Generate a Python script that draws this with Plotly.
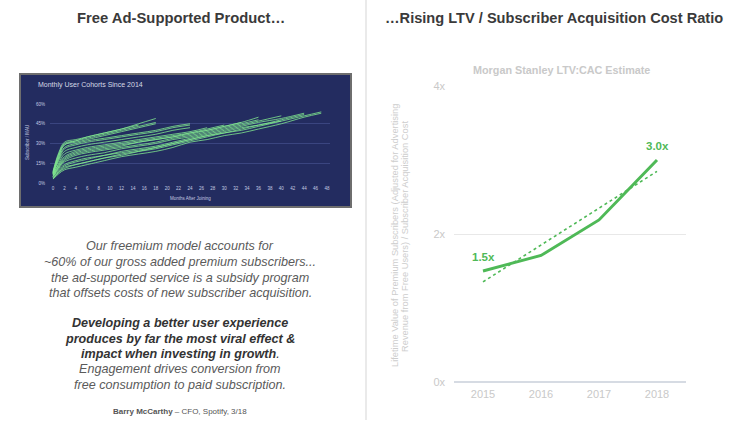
import numpy as np
import plotly.graph_objects as go

W, H = 735, 434

# ---------------- data ----------------
years = [2015, 2016, 2017, 2018]
year_labels = ["2015", "2016", "2017", "2018"]
ltv_cac = [1.5, 1.71, 2.19, 3.0]
ltv_ticks = [0, 2, 4]
ltv_tick_labels = ["0x", "2x", "4x"]
point_labels = {2015: "1.5x", 2018: "3.0x"}

cohort_months = [0, 1, 2, 4, 6, 9, 12, 15, 18, 21, 24, 27, 30, 33, 36, 40, 44, 47]
cohorts = [
    [3, 7, 10, 12, 14, 17, 20, 22, 24, 27, 31, 33, 36, 38, 41, 45, 50, 53],
    [4, 8, 12, 14, 16, 19, 22, 24, 26, 29, 32, 35, 38, 40, 43, 47, 51, 54],
    [3, 8, 11, 14, 16, 19, 21, 24, 27, 30, 33, 36, 39, 42, 44, 48, 52],
    [5, 10, 14, 17, 19, 21, 24, 26, 28, 31, 34, 37, 40, 43, 46, 49, 53],
    [4, 9, 13, 16, 18, 21, 23, 25, 27, 30, 33, 36, 38, 41, 44, 47],
    [5, 11, 16, 19, 21, 23, 26, 28, 30, 33, 35, 38, 41, 44, 47, 51],
    [6, 12, 17, 21, 23, 25, 27, 29, 31, 34, 36, 39, 42, 45, 48],
    [5, 12, 18, 22, 24, 26, 28, 31, 33, 35, 38, 40, 43, 46, 50],
    [6, 13, 19, 23, 25, 27, 29, 31, 33, 35, 37, 40, 43, 46],
    [7, 14, 20, 24, 26, 28, 30, 32, 34, 36, 38, 41, 44],
    [6, 15, 22, 25, 27, 29, 31, 33, 35, 37, 39, 42],
    [7, 17, 24, 27, 29, 31, 33, 35, 37, 40, 42],
    [8, 18, 26, 29, 31, 33, 35, 37, 39, 42, 44],
    [7, 19, 27, 30, 32, 34, 36, 38, 40, 43, 45],
    [8, 20, 29, 31, 33, 36, 39, 42, 45],
    [8, 22, 30, 32, 34, 37, 40, 43, 46],
    [9, 23, 31, 33, 35, 38, 41, 45, 49],
    [8, 21, 29, 32, 35, 38, 41, 44],
]
cohort_xticks = list(range(0, 49, 2))
cohort_yticks = [0, 15, 30, 45, 60]
cohort_ytick_labels = ["0%", "15%", "30%", "45%", "60%"]

# ---------------- helpers ----------------
def X(px):
    return px / W

def Y(py):
    return 1 - py / H

GREEN = "#4fb957"
LIGHT = "#c9c9c9"
FONT = "Liberation Sans, Arial, sans-serif"

fig = go.Figure()

# inset cohort lines
for vals in cohorts:
    fig.add_trace(go.Scatter(
        x=cohort_months[:len(vals)], y=vals, xaxis="x2", yaxis="y2",
        mode="lines", line=dict(color="rgba(128,230,142,0.8)", width=1, shape="spline"),
        hoverinfo="skip", showlegend=False))

# trend line (least squares fit of the LTV:CAC values)
slope, icpt = np.polyfit(years, ltv_cac, 1)
trend = [slope * yv + icpt for yv in years]
fig.add_trace(go.Scatter(x=years, y=trend, mode="lines",
                         line=dict(color=GREEN, width=1.6, dash="dot"),
                         hoverinfo="skip", showlegend=False))
fig.add_trace(go.Scatter(x=years, y=ltv_cac, mode="lines",
                         line=dict(color=GREEN, width=3),
                         hoverinfo="skip", showlegend=False))

annotations = []
for yr, lab in point_labels.items():
    annotations.append(dict(x=yr, y=ltv_cac[years.index(yr)], xref="x", yref="y",
                            text="<b>%s</b>" % lab, showarrow=False, yshift=14,
                            font=dict(family=FONT, size=11.5, color=GREEN)))

def txt(x, y, text, size, color, xanchor="center", angle=0):
    annotations.append(dict(x=X(x), y=Y(y), xref="paper", yref="paper", text=text,
                            showarrow=False, xanchor=xanchor, yanchor="middle",
                            textangle=angle,
                            font=dict(family=FONT, size=size, color=color)))

# headers
txt(181, 18, "<b>Free Ad-Supported Product…</b>", 14.8, "#3a3a3a")
txt(554, 18, "<b>…Rising LTV / Subscriber Acquisition Cost Ratio</b>", 14.6, "#3a3a3a")

# right chart title and axis title
txt(561, 70, "<b>Morgan Stanley LTV:CAC Estimate</b>", 10.8, LIGHT)
txt(395, 236, "Lifetime Value of Premium Subscribers (Adjusted for Advertising", 9.3, "#cdcdcd", angle=-90)
txt(405, 236, "Revenue from Free Users) / Subscriber Acquisition Cost", 9.3, "#cdcdcd", angle=-90)

# quote
q_norm = "#5a5a5a"
q_bold = "#333333"
qs = 12.6
txt(180, 246, "<i>Our freemium model accounts for</i>", qs, q_norm)
txt(180, 262, "<i>~60% of our gross added premium subscribers...</i>", qs, q_norm)
txt(180, 278, "<i>the ad-supported service is a subsidy program</i>", qs, q_norm)
txt(180, 293, "<i>that offsets costs of new subscriber acquisition.</i>", qs, q_norm)
txt(180, 323, "<b><i>Developing a better user experience</i></b>", qs, q_bold)
txt(180, 339, "<b><i>produces by far the most viral effect &amp;</i></b>", qs, q_bold)
txt(180, 354, "<b><i>impact when investing in growth</i></b><i>.</i>", qs, q_bold)
txt(180, 369, "<i>Engagement drives conversion from</i>", qs, q_norm)
txt(180, 385, "<i>free consumption to paid subscription.</i>", qs, q_norm)
txt(180, 411, "<b>Barry McCarthy</b> – CFO, Spotify, 3/18", 8, "#555555")

# inset texts
txt(36, 85, "Monthly User Cohorts Since 2014", 7, "#d5d9e6", xanchor="left")
txt(190, 198, "Months After Joining", 4.5, "#c5cbe0")
txt(28, 143, "Subscriber / MAU", 4.5, "#c5cbe0", angle=-90)

shapes = [
    # inset background and frame
    dict(type="rect", xref="paper", yref="paper", x0=X(20), x1=X(351), y0=Y(207), y1=Y(74),
         fillcolor="#232c60", line=dict(color="#6e6e6e", width=2), layer="below"),
    # divider
    dict(type="line", xref="paper", yref="paper", x0=X(366), x1=X(366), y0=Y(0), y1=Y(420),
         line=dict(color="#e3e3e3", width=1.5)),
]

fig.update_layout(
    width=W, height=H, autosize=False,
    margin=dict(l=0, r=0, t=0, b=0, autoexpand=False),
    paper_bgcolor="white", plot_bgcolor="rgba(0,0,0,0)",
    showlegend=False,
    font=dict(family=FONT),
    annotations=annotations, shapes=shapes,
    xaxis=dict(domain=[X(454), X(686)], range=[2014.5, 2018.5],
               tickvals=years, ticktext=year_labels, showgrid=False, zeroline=False,
               showline=False, ticks="", ticklabelstandoff=4,
               tickfont=dict(family=FONT, size=11, color=LIGHT), fixedrange=True),
    yaxis=dict(domain=[Y(382), Y(86)], range=[0, 4],
               tickvals=ltv_ticks, ticktext=ltv_tick_labels, showgrid=True,
               gridcolor="#e8e8e8", gridwidth=1, zeroline=True,
               zerolinecolor="#d6dbe3", zerolinewidth=1.5, showline=False, ticks="",
               ticklabelstandoff=8,
               tickfont=dict(family=FONT, size=11, color=LIGHT), fixedrange=True),
    xaxis2=dict(domain=[X(50), X(330)], range=[-0.53, 48.53], anchor="y2",
                tickvals=cohort_xticks, showgrid=False, zeroline=False, showline=False,
                ticks="", ticklabelstandoff=1,
                tickfont=dict(family=FONT, size=4.5, color="#c5cbe0"), fixedrange=True),
    yaxis2=dict(domain=[Y(183), Y(104)], range=[0, 60], anchor="x2",
                tickvals=cohort_yticks, ticktext=cohort_ytick_labels, showgrid=True,
                gridcolor="#3a4580", gridwidth=1, zeroline=False, showline=False,
                ticks="", ticklabelstandoff=4,
                tickfont=dict(family=FONT, size=4.5, color="#c5cbe0"), fixedrange=True),
)

fig.write_html("out.html", config={"displayModeBar": False},
               post_script="document.body.style.margin='0';document.body.style.overflow='hidden';")
